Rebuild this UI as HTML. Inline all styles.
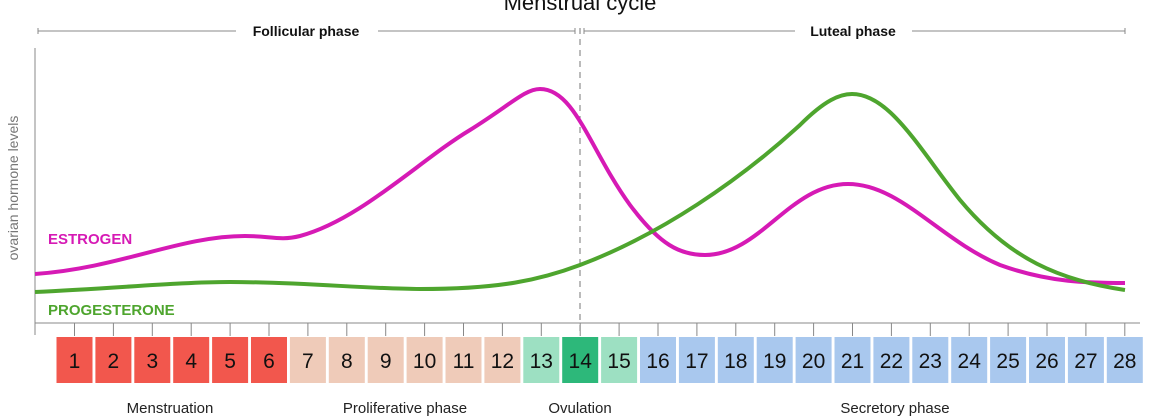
<!DOCTYPE html>
<html><head><style>
body{margin:0;background:#fff;}
svg{display:block;font-family:"Liberation Sans",sans-serif;}
</style></head><body>
<svg width="1164" height="420" viewBox="0 0 1164 420" xmlns="http://www.w3.org/2000/svg">
<text x="580" y="10" font-size="22" text-anchor="middle" fill="#111">Menstrual cycle</text>
<g stroke="#888" stroke-width="1">
<line x1="38" y1="31" x2="236" y2="31"/><line x1="378" y1="31" x2="575" y2="31"/>
<line x1="38" y1="28" x2="38" y2="34"/><line x1="575" y1="28" x2="575" y2="34"/>
<line x1="584" y1="31" x2="795" y2="31"/><line x1="912" y1="31" x2="1125" y2="31"/>
<line x1="584" y1="28" x2="584" y2="34"/><line x1="1125" y1="28" x2="1125" y2="34"/>
<line x1="35" y1="48" x2="35" y2="335"/><line x1="35" y1="323" x2="1140" y2="323"/>
</g>
<line x1="580" y1="28" x2="580" y2="335" stroke="#777" stroke-dasharray="6,5"/>
<text x="306" y="36" font-size="14" font-weight="bold" text-anchor="middle" fill="#111">Follicular phase</text>
<text x="853" y="36" font-size="14" font-weight="bold" text-anchor="middle" fill="#111">Luteal phase</text>
<text transform="translate(18,188) rotate(-90)" font-size="14" text-anchor="middle" fill="#777">ovarian hormone levels</text>
<text x="48" y="244" font-size="15" font-weight="bold" fill="#d61ab5">ESTROGEN</text>
<text x="48" y="315" font-size="15" font-weight="bold" fill="#4ea52e">PROGESTERONE</text>
<path d="M35,274 C120,268 180,236 245,236 C270,236 280,241 300,236 C360,220 420,160 470,130 C510,105 525,89 540,89 C575,89 590,150 630,205 C660,245 680,255 705,255 C760,255 790,184 848,184 C900,184 940,240 1000,265 C1050,283 1090,283 1125,283" fill="none" stroke="#d61ab5" stroke-width="4"/>
<path d="M35,292 C120,288 180,282 230,282 C300,282 370,289 420,289 C500,289 540,280 580,265 C660,235 740,180 800,125 C825,100 840,94 852,94 C890,94 920,150 960,200 C1010,260 1060,280 1125,290" fill="none" stroke="#4ea52e" stroke-width="4"/>
<g id="boxes" font-size="21" text-anchor="middle" fill="#111"></g>
<text x="170" y="413" font-size="15" text-anchor="middle" fill="#222">Menstruation</text>
<text x="405" y="413" font-size="15" text-anchor="middle" fill="#222">Proliferative phase</text>
<text x="580" y="413" font-size="15" text-anchor="middle" fill="#222">Ovulation</text>
<text x="895" y="413" font-size="15" text-anchor="middle" fill="#222">Secretory phase</text>
</svg>
<script>
var g=document.getElementById('boxes'),h='';
for(var i=1;i<=28;i++){var cx=74.5+(i-1)*38.9;
var c=i<=6?'#f2574d':i<=12?'#efcbb9':i==13||i==15?'#9de0c2':i==14?'#2db87a':'#a9c8ee';
h+='<line x1="'+cx+'" y1="323" x2="'+cx+'" y2="336" stroke="#888"/>';
h+='<rect x="'+(cx-18)+'" y="337" width="36" height="46" fill="'+c+'"/>';
h+='<text x="'+cx+'" y="368">'+i+'</text>';}
g.innerHTML=h;
</script>
</body></html>
